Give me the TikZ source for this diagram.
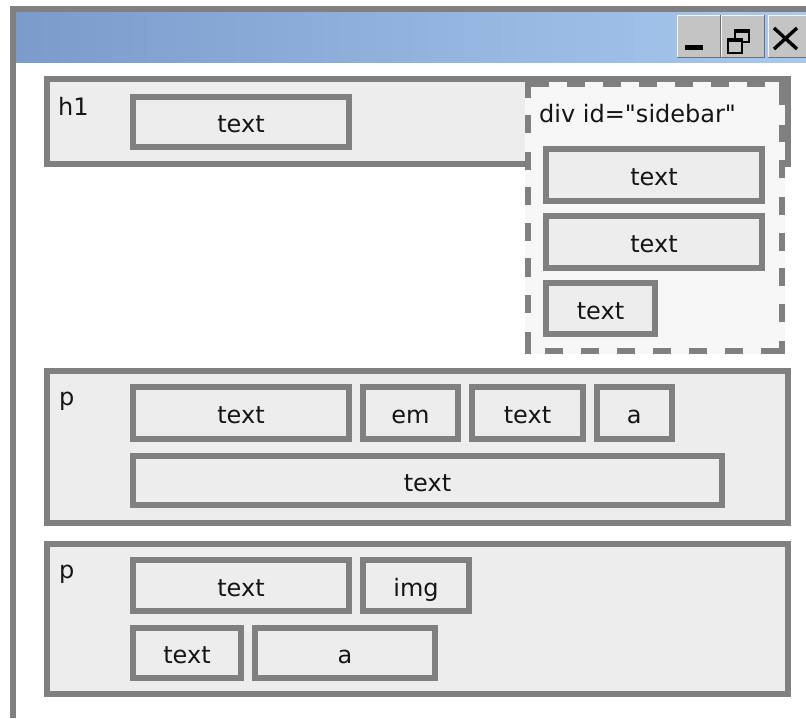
\documentclass[tikz,border=0pt]{standalone}
\usepackage{fontspec}
\setmainfont{DejaVu Sans}
\newfontfamily\dvs{DejaVu Sans}
\definecolor{bord}{HTML}{808080}
\definecolor{boxfill}{HTML}{EDEDED}
\definecolor{sbfill}{HTML}{F7F7F7}
\definecolor{txt}{HTML}{151515}
\definecolor{tbleft}{HTML}{7B9CCB}
\definecolor{tbright}{HTML}{A7C9EF}
\definecolor{btnfill}{HTML}{C4C4C4}
\definecolor{btndark}{HTML}{6E6E6E}
\begin{document}
\begin{tikzpicture}[x=1pt,y=-1pt,
  tbox/.style={draw=bord, fill=boxfill, line width=6pt, inner sep=0pt, text=txt,
    font=\dvs\fontsize{24}{28}\selectfont, text height=25pt, text depth=4pt},
  lbl/.style={inner sep=0pt, text=txt, font=\dvs\fontsize{24}{28}\selectfont, anchor=base west},
  btn/.style={fill=btnfill, draw=none, inner sep=0pt, anchor=north west},
  dsh/.style={fill=bord, draw=none}]
\useasboundingbox (0,0) rectangle (806,718);
\fill[white] (0,0) rectangle (806,718);
% window frame
\fill[bord] (10,6) rectangle (806,12);
\fill[bord] (10,6) rectangle (16,718);
\shade[left color=tbleft, right color=tbright] (16,12) rectangle (806,62);
% title bar buttons
\node[btn, minimum width=43pt, minimum height=42pt] (bmin) at (677,15) {};
\node[btn, minimum width=43pt, minimum height=42pt] (bres) at (721,15) {};
\node[btn, minimum width=38pt, minimum height=42pt] (bclose) at (768,15) {};
\foreach \b in {bmin,bres,bclose}{
  \draw[btndark, line width=1.5pt] (\b.north east) -- (\b.south east) -- (\b.south west);
  \draw[white!85!btnfill, line width=1pt] (\b.south west) -- (\b.north west) -- (\b.north east);
}
\fill[black] (685,45) rectangle (703,50);
\draw[black, line width=1.8pt] (735,30) rectangle (749,42);
\fill[black] (735,29) rectangle (749,33);
\fill[btnfill] (728,39) rectangle (742,53);
\draw[black, line width=1.8pt] (728,39) rectangle (742,53);
\fill[black] (728,38) rectangle (742,42);
\draw[black, line width=3.4pt] (774,28) -- (797,49) (797,28) -- (774,49);
% h1
\node[tbox, minimum width=741pt, minimum height=85pt] (h1) at (417.5,121.5) {};
\node[lbl] (h1lbl) at (58,115) {h1};
\node[tbox, minimum width=216pt, minimum height=50pt] (h1t) at (241,122) {text};
% sidebar
\node[fill=sbfill, draw=none, inner sep=0pt, minimum width=260pt, minimum height=272pt] (sidebar) at (655,218) {};
\foreach \a/\b in {81/98,115/133,152/170,187/205,223/241,258/277,295/313,332/354}
  \fill[dsh] (525,\a) rectangle (531,\b);
\foreach \a/\b in {545/563,581/599,617/635,653/671,689/707,725/743,761/785}
  \fill[dsh] (\a,348) rectangle (\b,354);
\foreach \a/\b in {81/105,125/142,160/178,197/215,233/251,268/286,304/322,341/354}
  \fill[dsh] (779,\a) rectangle (785,\b);
\foreach \a/\b in {525/549,567/585,603/621,639/657,675/693,711/729,747/765,779/785}
  \fill[dsh] (\a,81) rectangle (\b,87);
\node[lbl] (sblbl) at (539,122.7) {div id="sidebar"};
\node[tbox, minimum width=216pt, minimum height=52pt] (sb1) at (654,175) {text};
\node[tbox, minimum width=216pt, minimum height=52pt] (sb2) at (654,242) {text};
\node[tbox, minimum width=109pt, minimum height=51pt] (sb3) at (600.5,308.5) {text};
% p1
\node[tbox, minimum width=741pt, minimum height=152pt] (p1) at (417.5,447) {};
\node[lbl] (p1lbl) at (59,405) {p};
\node[tbox, minimum width=216pt, minimum height=52pt] (p1a) at (241,413) {text};
\node[tbox, minimum width=95pt, minimum height=52pt] (p1b) at (410.5,413) {em};
\node[tbox, minimum width=111pt, minimum height=52pt] (p1c) at (527.5,413) {text};
\node[tbox, minimum width=74.5pt, minimum height=52pt] (p1d) at (634.25,413) {a};
\node[tbox, minimum width=589pt, minimum height=49pt] (p1e) at (427.5,480.5) {text};
% p2
\node[tbox, minimum width=741pt, minimum height=150pt] (p2) at (417.5,619) {};
\node[lbl] (p2lbl) at (59,578) {p};
\node[tbox, minimum width=216pt, minimum height=51pt] (p2a) at (241,585.5) {text};
\node[tbox, minimum width=106pt, minimum height=51pt] (p2b) at (416,585.5) {img};
\node[tbox, minimum width=108pt, minimum height=50pt] (p2c) at (187,653) {text};
\node[tbox, minimum width=180pt, minimum height=50pt] (p2d) at (345,653) {a};
\end{tikzpicture}
\end{document}
